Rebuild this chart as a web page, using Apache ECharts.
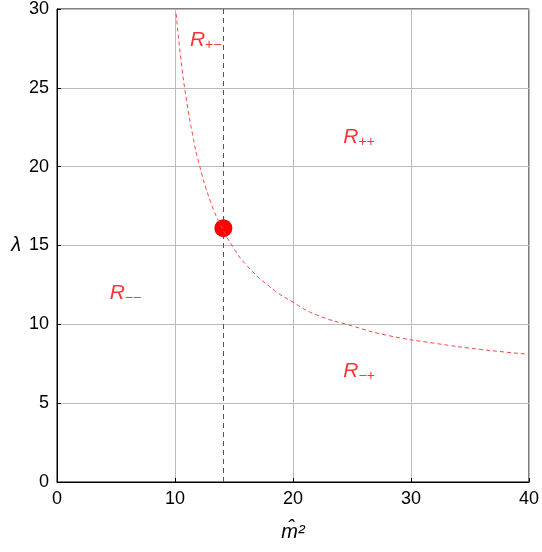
<!DOCTYPE html><html><head><meta charset="utf-8"><script src="https://cdn.jsdelivr.net/npm/echarts@6/dist/echarts.min.js"></script></head><body style="margin:0"><div id="c" style="width:542px;height:552px"></div><script>
const curveX=[10.1,10.5,11,11.5,12,13,14,15,16,18,20,22,25,28,32,36,40];
const curveY=[29.7,26.8,24.1,22.0,20.3,17.8,16.1,14.8,13.8,12.4,11.4,10.6,9.9,9.3,8.8,8.4,8.1];
const point=[14.1,16.1];
const regionLabels=[{n:'++',x:25.6,y:21.9},{n:'+−',x:12.6,y:28.0},{n:'−−',x:5.8,y:12.0},{n:'−+',x:25.6,y:7.0}];
const ch=echarts.init(document.getElementById('c'));
const ax={axisLine:{lineStyle:{color:'#000'}},axisTick:{inside:true,length:4,lineStyle:{color:'#000'}},axisLabel:{color:'#000',fontSize:18,fontFamily:'Arial'},splitLine:{lineStyle:{color:'#bbb'}},nameTextStyle:{color:'#000',fontSize:20,fontFamily:'Arial',fontStyle:'italic'}};
ch.setOption({animation:false,grid:{left:57,right:12,top:9,bottom:70,show:true,borderColor:'#000',borderWidth:1},
xAxis:Object.assign({type:'value',min:0,max:40,interval:10,name:'m̂²',nameLocation:'middle',nameGap:40},ax),
yAxis:Object.assign({type:'value',min:0,max:30,interval:5,name:'λ',nameLocation:'middle',nameGap:36,nameRotate:0},ax),
series:[
{type:'line',data:curveX.map((x,i)=>[x,curveY[i]]),smooth:true,symbol:'none',lineStyle:{color:'#f44',width:1,type:[4,3]},
 markLine:{silent:true,symbol:'none',label:{show:false},lineStyle:{color:'#555',type:[5,4],width:1},data:[{xAxis:point[0]}]}},
{type:'scatter',data:[point],symbolSize:18,itemStyle:{color:'#f00',opacity:1}},
{type:'scatter',data:regionLabels.map(r=>({value:[r.x,r.y],name:r.n})),symbolSize:0,
 label:{show:true,position:'inside',formatter:p=>'{a|R}{b|'+p.name+'}',rich:{a:{color:'#f00',fontSize:21,fontStyle:'italic',fontFamily:'Arial'},b:{color:'#f00',fontSize:14,fontFamily:'Arial',padding:[10,0,0,0]}}}}
]});
</script></body></html>
